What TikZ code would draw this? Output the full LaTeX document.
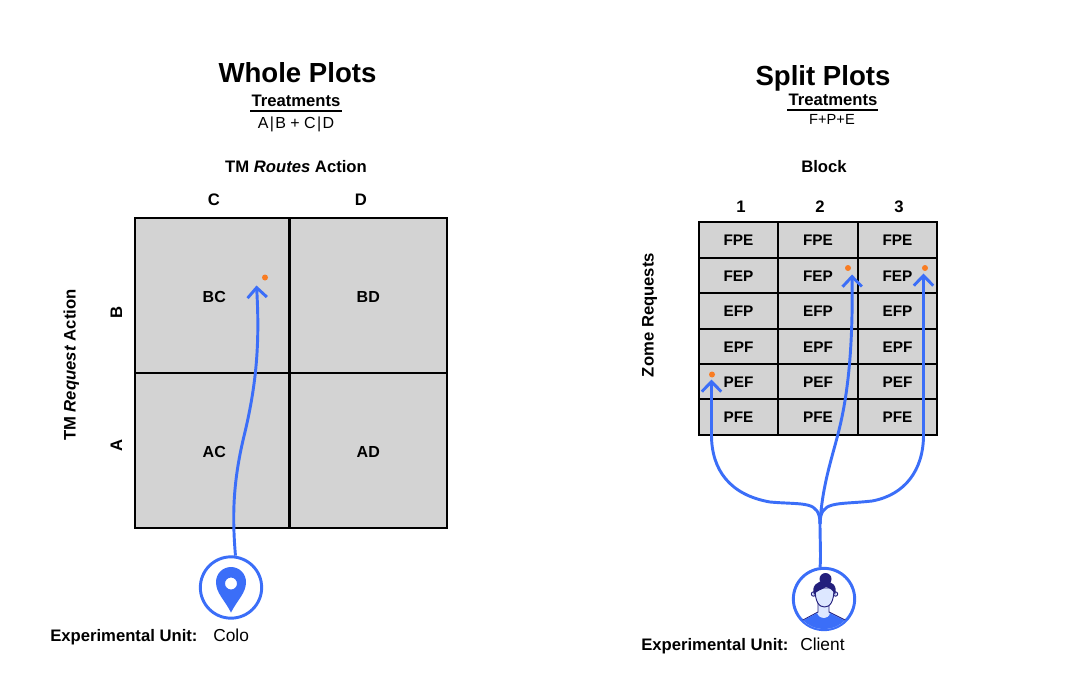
\documentclass[tikz,border=0pt]{standalone}
\usepackage{fontspec}
\setmainfont{Liberation Sans}
\usetikzlibrary{arrows.meta}
\definecolor{flowblue}{HTML}{3B6EF8}
\definecolor{plotgray}{HTML}{D3D3D3}
\definecolor{dotorange}{HTML}{F97C22}
\definecolor{hairnavy}{HTML}{231F7C}
\definecolor{skinblue}{HTML}{DDE7FF}
\tikzset{
  bigtitle/.style={anchor=base,inner sep=0pt,font=\fontsize{20.7}{24}\selectfont\bfseries},
  boldlabel/.style={anchor=base,inner sep=0pt,font=\fontsize{12.5}{15}\selectfont\bfseries},
  plainlabel/.style={anchor=base,inner sep=0pt,font=\fontsize{12}{15}\selectfont},
  unitlabel/.style={anchor=base west,inner sep=0pt,font=\fontsize{13}{15}\selectfont},
  wholecell/.style={draw,line width=1.7pt,fill=plotgray,minimum width=115.9pt,minimum height=116.2pt,inner sep=0pt,text height=10.8pt,text depth=0pt,font=\fontsize{12}{14}\selectfont\bfseries},
  splitcell/.style={draw,line width=1.7pt,fill=plotgray,minimum width=59.6pt,minimum height=26.6pt,inner sep=0pt,text height=8.8pt,text depth=0pt,font=\fontsize{11.5}{14}\selectfont\bfseries},
  unitcircle/.style={circle,draw=flowblue,line width=2.2pt,fill=white,minimum size=46pt,inner sep=0pt},
  flow/.style={draw=flowblue,line width=2.2pt,-{Straight Barb[length=7.5pt,width=14.5pt,line width=2.2pt]}},
  stem/.style={draw=flowblue,line width=2.2pt},
  dotmark/.style={circle,fill=dotorange,minimum size=4.5pt,inner sep=0pt},
  treatrule/.style={line width=0.8pt}
}
\begin{document}
\begin{tikzpicture}[x=0.75pt,y=-0.75pt]
\useasboundingbox (0,0) rectangle (1067,692);

% Whole plots heading
\node[bigtitle] (wholetitle) at (297.5,83) {Whole Plots};
\node[boldlabel] (wholetreat) at (296,107) {Treatments};
\coordinate (wholeruleL) at (250,111);
\coordinate (wholeruleR) at (342,111);
\draw[treatrule] (wholeruleL) -- (wholeruleR);
\node[plainlabel] (wholeformula) at (296,128) {A\kern1pt|\kern1pt B + C\kern1pt|\kern1pt D};
\node[boldlabel] (routes) at (296,172) {TM \textit{Routes} Action};
\node[boldlabel] (colC) at (214,205) {C};
\node[boldlabel] (colD) at (361,205) {D};
\node[boldlabel,rotate=90] (rowB) at (122,312) {B};
\node[boldlabel,rotate=90] (rowA) at (122,445) {A};
\node[boldlabel,rotate=90] (request) at (75.5,365) {TM \textit{Request} Action};

% Whole plots grid
\node[wholecell] (bc) at (212.25,295.5) {\hspace{3pt}BC};
\node[wholecell,minimum width=118.1pt] (bd) at (368.25,295.5) {BD};
\node[wholecell] (ac) at (212.25,450.5) {\hspace{3pt}AC};
\node[wholecell,minimum width=118.1pt] (ad) at (368.25,450.5) {AD};

% Split plots heading
\node[bigtitle] (splittitle) at (823,85) {Split Plots};
\node[boldlabel] (splittreat) at (833,105.5) {Treatments};
\coordinate (splitruleL) at (787,110);
\coordinate (splitruleR) at (878,110);
\draw[treatrule] (splitruleL) -- (splitruleR);
\node[plainlabel,font=\fontsize{11}{14}\selectfont] (splitformula) at (832,124.5) {F+P+E};
\node[boldlabel] (block) at (824,172) {Block};
\node[boldlabel] (colOne) at (741,212) {1};
\node[boldlabel] (colTwo) at (820,212) {2};
\node[boldlabel] (colThree) at (899,212) {3};
\node[boldlabel,rotate=90] (zome) at (653.5,315) {Zome Requests};

% Split plots grid
\node[splitcell] (a1) at (738.5,240) {FPE};
\node[splitcell] (a2) at (818,240) {FPE};
\node[splitcell] (a3) at (897.5,240) {FPE};
\node[splitcell] (b1) at (738.5,275.5) {FEP};
\node[splitcell] (b2) at (818,275.5) {FEP};
\node[splitcell] (b3) at (897.5,275.5) {FEP};
\node[splitcell] (c1) at (738.5,311) {EFP};
\node[splitcell] (c2) at (818,311) {EFP};
\node[splitcell] (c3) at (897.5,311) {EFP};
\node[splitcell] (d1) at (738.5,346.5) {EPF};
\node[splitcell] (d2) at (818,346.5) {EPF};
\node[splitcell] (d3) at (897.5,346.5) {EPF};
\node[splitcell] (e1) at (738.5,381.5) {PEF};
\node[splitcell] (e2) at (818,381.5) {PEF};
\node[splitcell] (e3) at (897.5,381.5) {PEF};
\node[splitcell] (f1) at (738.5,417) {PFE};
\node[splitcell] (f2) at (818,417) {PFE};
\node[splitcell] (f3) at (897.5,417) {PFE};

% Orange dots
\node[dotmark] (dotbc) at (265,277.5) {};
\node[dotmark] (dotb2) at (848,268) {};
\node[dotmark] (dotb3) at (925,268) {};
\node[dotmark] (dote1) at (712,374.5) {};

% Arrow ends
\coordinate (tipbc) at (256.5,285.5);
\coordinate (tipb2) at (852,274.5);
\coordinate (tipb3) at (923.5,273.5);
\coordinate (tipe1) at (711.5,379.5);
\coordinate (fork) at (820,524);

% Experimental units
\node[unitcircle] (colo) at (231,587.5) {};
\node[unitcircle] (client) at (824,599) {};
\node[boldlabel,anchor=base west] (unitwhole) at (50,641) {Experimental Unit:};
\node[unitlabel] (colotext) at (213,641) {Colo};
\node[boldlabel,anchor=base west] (unitsplit) at (641,650) {Experimental Unit:};
\node[unitlabel] (clienttext) at (800,650) {Client};

% Arrows
\draw[flow] (colo.82) .. controls (232,515) and (233,480) .. (245,432) .. controls (256,385) and (260,345) .. (tipbc);
\draw[stem] (client.97) .. controls (821,555) and (820,540) .. (fork);
\draw[flow] (fork) .. controls (820,500) and (804,505) .. (770,502) .. controls (730,495) and (711.5,470) .. (711.5,435) -- (tipe1);
\draw[flow] (fork) .. controls (822,485) and (833,455) .. (839,430) .. controls (849,390) and (853,340) .. (tipb2);
\draw[flow] (fork) .. controls (820,500) and (836,505) .. (872,501) .. controls (905,495) and (923.5,470) .. (923.5,435) -- (tipb3);

% Pin icon
\fill[flowblue,even odd rule] (231,612.5) .. controls (224,599) and (216,593) .. (216,582) arc[start angle=180,end angle=360,radius=15] .. controls (246,593) and (238,599) .. cycle (231,583.5) circle[radius=6];

% Person icon
\begin{scope}
\clip (824,599) circle[radius=30];
\filldraw[fill=skinblue,draw=hairnavy,line width=0.7pt] (818,603) -- (818,612) -- (803,620) -- (803,632) -- (845,632) -- (845,620) -- (829,612) -- (829,603) -- cycle;
\fill[flowblue] (803,620.5) -- (817,613) .. controls (819,620) and (829,620) .. (830,613) -- (845,620.5) -- (850,632) -- (798,632) -- cycle;
\end{scope}
\filldraw[fill=skinblue,draw=hairnavy,line width=0.7pt] (813.5,594) circle[radius=2.2];
\filldraw[fill=skinblue,draw=hairnavy,line width=0.7pt] (835.5,594) circle[radius=2.2];
\filldraw[fill=skinblue,draw=hairnavy,line width=0.7pt] (815,588) .. controls (815,602) and (819,607) .. (824.5,607) .. controls (830,607) and (834,602) .. (834,588) -- cycle;
\fill[hairnavy] (825.5,579) circle[radius=6];
\fill[hairnavy] (814,595) .. controls (811,586) and (817,581) .. (824.5,581) .. controls (832,581) and (838,586) .. (835,595) .. controls (834,591) and (830,588) .. (826,587) .. controls (822,590) and (817,590) .. (814,595) -- cycle;
\end{tikzpicture}
\end{document}
